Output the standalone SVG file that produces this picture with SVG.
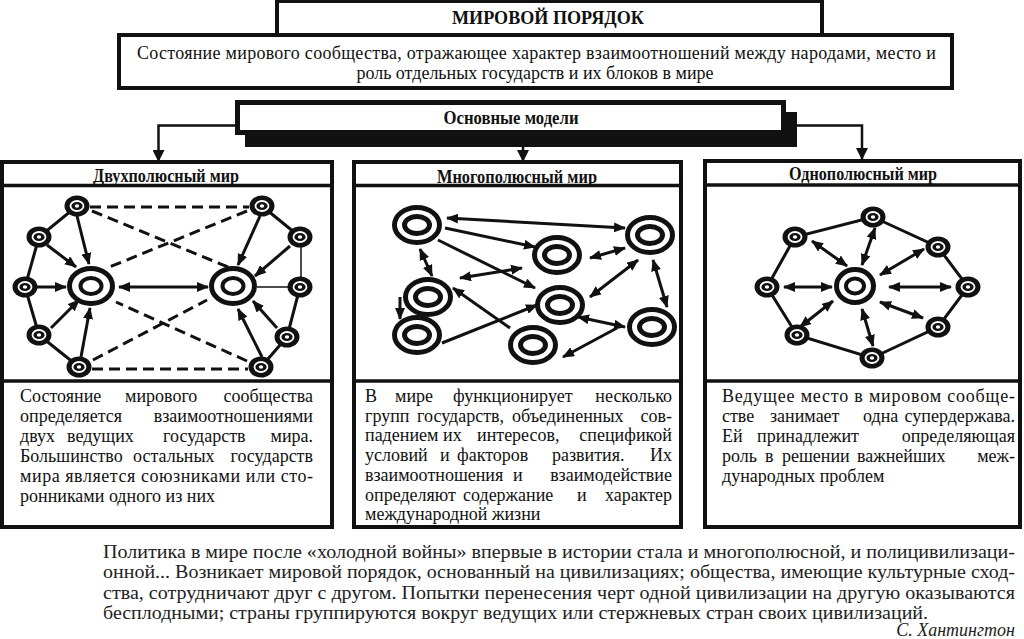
<svg xmlns="http://www.w3.org/2000/svg" xmlns:xlink="http://www.w3.org/1999/xlink" width="1024" height="639" viewBox="0 0 1024 639">
<style>
.box{fill:#fff;stroke:#111;stroke-width:4}
.sep{stroke:#111;stroke-width:3.5}
.ln{stroke:#111;stroke-width:3;fill:none}
.thin{stroke:#111;stroke-width:1.5;fill:none}
.ar{stroke:#111;stroke-width:3;fill:none;marker-end:url(#ah)}
.dar{stroke:#111;stroke-width:3;fill:none;marker-start:url(#ah);marker-end:url(#ah)}
.ds{stroke:#111;stroke-width:3;fill:none;stroke-dasharray:11 6}
.con{stroke:#111;stroke-width:2.5;fill:none;marker-end:url(#ah2)}
.t{font-family:"Liberation Serif","Times New Roman",serif;font-size:18px;fill:#111}
.h{font-family:"Liberation Serif","Times New Roman",serif;font-size:18.5px;font-weight:bold;fill:#111}
.q{font-family:"Liberation Serif","Times New Roman",serif;font-size:18px;fill:#222}
</style>
<defs>
<marker id="ah" viewBox="0 0 12 10" refX="11" refY="5" markerWidth="12" markerHeight="10" markerUnits="userSpaceOnUse" orient="auto-start-reverse"><path d="M0,0 L12,5 L0,10 z" fill="#111"/></marker>
<marker id="ah2" viewBox="0 0 12 12" refX="11" refY="6" markerWidth="12" markerHeight="12" markerUnits="userSpaceOnUse" orient="auto"><path d="M0,0 L12,6 L0,12 z" fill="#111"/></marker>
<g id="sm"><ellipse rx="12.5" ry="10.5" fill="#111"/><ellipse rx="6.5" ry="5" fill="none" stroke="#fff" stroke-width="1.8"/><ellipse rx="2.2" ry="1.8" fill="#fff"/></g>
<g id="big"><ellipse rx="21.5" ry="17.5" fill="#fff" stroke="#111" stroke-width="5"/><ellipse rx="10.5" ry="8" fill="#fff" stroke="#111" stroke-width="4"/></g>
<g id="mp"><ellipse rx="22.5" ry="17.5" fill="#fff" stroke="#111" stroke-width="5"/><ellipse rx="12.5" ry="8.5" fill="#fff" stroke="#111" stroke-width="5"/></g>
<g id="big3"><ellipse rx="18.5" ry="16.5" fill="#fff" stroke="#111" stroke-width="5"/><ellipse rx="9" ry="7.5" fill="#fff" stroke="#111" stroke-width="4"/></g>
</defs>
<rect width="1024" height="639" fill="#fff"/>

<g id="definition">
<rect x="119" y="35" width="833" height="53" class="box"/>
<text class="t" x="137" y="59" textLength="799" lengthAdjust="spacing">Состояние мирового сообщества, отражающее характер взаимоотношений между народами, место и</text>
<text class="t" x="535" y="79" text-anchor="middle">роль отдельных государств и их блоков в мире</text>
</g>
<g id="title">
<rect x="277" y="1" width="545" height="34" class="box"/>
<text x="548" y="24" text-anchor="middle" font-family="Liberation Serif, Times New Roman, serif" font-size="19" font-weight="bold" fill="#111" textLength="192" lengthAdjust="spacingAndGlyphs">МИРОВОЙ  ПОРЯДОК</text>
</g>

<g id="connectors-top">
<path class="con" d="M235,125.5 H158.5 V161"/>
<path class="con" d="M523,147 V161"/>
<path class="con" d="M797,125.5 H862 V159"/>
</g>

<g id="models">
<rect x="245" y="112" width="552" height="35" fill="#111"/>
<rect x="237.5" y="102.5" width="546" height="30" fill="#fff" stroke="#111" stroke-width="5"/>
<text class="h" x="511" y="124" text-anchor="middle" textLength="135" lengthAdjust="spacingAndGlyphs">Основные модели</text>
</g>

<g id="panel-bipolar">
<rect x="2" y="162" width="330" height="365" class="box"/>
<line x1="2" y1="185.5" x2="332" y2="185.5" class="sep"/>
<line x1="2" y1="381" x2="332" y2="381" class="sep" stroke-width="4"/>
<text class="h" x="166" y="182" text-anchor="middle" textLength="146" lengthAdjust="spacingAndGlyphs">Двухполюсный мир</text>
<text class="t" y="402"><tspan x="20">Состояние</tspan><tspan x="125">мирового</tspan><tspan x="313" text-anchor="end">сообщества</tspan></text>
<text class="t" y="422"><tspan x="20">определяется</tspan><tspan x="313" text-anchor="end">взаимоотношениями</tspan></text>
<text class="t" y="442"><tspan x="20">двух</tspan><tspan x="67">ведущих</tspan><tspan x="163">государств</tspan><tspan x="313" text-anchor="end">мира.</tspan></text>
<text class="t" y="462"><tspan x="20">Большинство</tspan><tspan x="133">остальных</tspan><tspan x="313" text-anchor="end">государств</tspan></text>
<text class="t" x="20" y="482" textLength="293" lengthAdjust="spacing">мира является союзниками или сто-</text>
<text class="t" x="20" y="502">ронниками одного из них</text>
</g>

<g id="panel-multipolar">
<rect x="354" y="162" width="327" height="365" class="box"/>
<line x1="354" y1="185.5" x2="681" y2="185.5" class="sep"/>
<line x1="354" y1="381" x2="681" y2="381" class="sep" stroke-width="4"/>
<text class="h" x="517" y="183" text-anchor="middle" textLength="160" lengthAdjust="spacingAndGlyphs">Многополюсный мир</text>
<text class="t" y="402"><tspan x="365">В</tspan><tspan x="395">мире</tspan><tspan x="453">функционирует</tspan><tspan x="672" text-anchor="end">несколько</tspan></text>
<text class="t" y="421.5"><tspan x="365">групп</tspan><tspan x="417">государств,</tspan><tspan x="512">объединенных</tspan><tspan x="672" text-anchor="end">сов-</tspan></text>
<text class="t" y="441"><tspan x="365">падением</tspan><tspan x="443">их</tspan><tspan x="477">интересов,</tspan><tspan x="672" text-anchor="end">спецификой</tspan></text>
<text class="t" y="461"><tspan x="365">условий</tspan><tspan x="440">и</tspan><tspan x="457">факторов</tspan><tspan x="552">развития.</tspan><tspan x="672" text-anchor="end">Их</tspan></text>
<text class="t" y="481"><tspan x="365">взаимоотношения</tspan><tspan x="513">и</tspan><tspan x="672" text-anchor="end">взаимодействие</tspan></text>
<text class="t" y="500.5"><tspan x="365">определяют</tspan><tspan x="463">содержание</tspan><tspan x="577">и</tspan><tspan x="672" text-anchor="end">характер</tspan></text>
<text class="t" x="365" y="520">международной жизни</text>
</g>

<g id="panel-unipolar">
<rect x="705" y="161" width="315" height="366" class="box"/>
<line x1="705" y1="185" x2="1020" y2="185" class="sep"/>
<line x1="705" y1="381" x2="1020" y2="381" class="sep" stroke-width="4"/>
<text class="h" x="863" y="179.5" text-anchor="middle" textLength="148" lengthAdjust="spacingAndGlyphs">Однополюсный мир</text>
<text class="t" x="722" y="402" textLength="293" lengthAdjust="spacing">Ведущее место в мировом сообще-</text>
<text class="t" y="422"><tspan x="722">стве</tspan><tspan x="770">занимает</tspan><tspan x="863">одна</tspan><tspan x="1015" text-anchor="end">супердержава.</tspan></text>
<text class="t" y="442"><tspan x="722">Ей</tspan><tspan x="757">принадлежит</tspan><tspan x="1015" text-anchor="end">определяющая</tspan></text>
<text class="t" y="462"><tspan x="722">роль</tspan><tspan x="765">в</tspan><tspan x="782">решении</tspan><tspan x="857">важнейших</tspan><tspan x="1015" text-anchor="end">меж-</tspan></text>
<text class="t" x="722" y="482">дународных проблем</text>
</g>

<g id="connectors">
<polyline class="ln" points="77,206 39,237 25,287 39,335 79,367"/>
<polyline class="ln" points="262,206 300,237"/>
<line class="thin" x1="301" y1="237" x2="301" y2="287"/>
<polyline class="ln" points="300,287 287,337 261,367"/>
<line class="ds" x1="90" y1="207" x2="249" y2="207"/>
<line class="ds" x1="92" y1="369" x2="248" y2="369"/>
<line class="ds" x1="92" y1="211" x2="228" y2="267"/>
<line class="ds" x1="247" y1="211" x2="107" y2="268"/>
<line class="ds" x1="93" y1="360" x2="207" y2="300"/>
<line class="ds" x1="247" y1="361" x2="116" y2="302"/>
<line class="ar" x1="77" y1="216" x2="89" y2="264"/>
<line class="ar" x1="47" y1="245" x2="76" y2="267"/>
<line class="ar" x1="37" y1="287" x2="66" y2="287"/>
<line class="ar" x1="51" y1="328" x2="79" y2="300"/>
<line class="ar" x1="81" y1="357" x2="90" y2="308"/>
<line class="ar" x1="260" y1="216" x2="238" y2="265"/>
<line class="ar" x1="290" y1="246" x2="255" y2="276"/>
<line class="thin" x1="257" y1="287" x2="290" y2="287"/>
<line class="ar" x1="277" y1="328" x2="253" y2="301"/>
<line class="ar" x1="262" y1="357" x2="238" y2="309"/>
<line class="dar" x1="119" y1="287" x2="208" y2="287"/>
<line class="dar" x1="447" y1="218" x2="625" y2="228"/>
<line class="ar" x1="445" y1="228" x2="535" y2="247"/>
<line class="ar" x1="438" y1="240" x2="535" y2="288"/>
<line class="dar" x1="420" y1="249" x2="432" y2="276"/>
<line class="dar" x1="590" y1="258" x2="625" y2="248"/>
<line class="dar" x1="460" y1="278" x2="522" y2="268"/>
<line class="ar" x1="400" y1="297" x2="400" y2="319"/>
<line class="ar" x1="442" y1="343" x2="537" y2="305"/>
<line class="ar" x1="510" y1="328" x2="453" y2="288"/>
<line class="dar" x1="638" y1="260" x2="590" y2="297"/>
<line class="dar" x1="653" y1="260" x2="667" y2="307"/>
<line class="dar" x1="578" y1="317" x2="625" y2="327"/>
<line class="ar" x1="617" y1="328" x2="563" y2="357"/>
<polygon class="ln" points="873,217 938,247 968,287 938,327 872,358 797,335 767,287 795,237"/>
<line class="dar" x1="862" y1="265" x2="875" y2="228"/>
<line class="dar" x1="847" y1="266" x2="812" y2="241"/>
<line class="dar" x1="880" y1="275" x2="924" y2="249"/>
<line class="dar" x1="832" y1="287" x2="784" y2="287"/>
<line class="dar" x1="889" y1="287" x2="951" y2="287"/>
<line class="dar" x1="833" y1="301" x2="800" y2="327"/>
<line class="dar" x1="880" y1="302" x2="923" y2="318"/>
<line class="dar" x1="862" y1="309" x2="873" y2="346"/>
</g>

<g id="nodes-bipolar">
<g id="bp-A"><use xlink:href="#sm" x="77" y="206"/></g>
<g id="bp-B"><use xlink:href="#sm" x="39" y="237"/></g>
<g id="bp-C"><use xlink:href="#sm" x="25" y="287"/></g>
<g id="bp-D"><use xlink:href="#sm" x="39" y="335"/></g>
<g id="bp-E"><use xlink:href="#sm" x="79" y="367"/></g>
<g id="bp-F"><use xlink:href="#sm" x="262" y="206"/></g>
<g id="bp-G"><use xlink:href="#sm" x="300" y="237"/></g>
<g id="bp-H"><use xlink:href="#sm" x="300" y="287"/></g>
<g id="bp-I"><use xlink:href="#sm" x="287" y="337"/></g>
<g id="bp-J"><use xlink:href="#sm" x="261" y="367"/></g>
<g id="bp-left"><use xlink:href="#big" x="91" y="286"/></g>
<g id="bp-right"><use xlink:href="#big" x="233" y="286"/></g>
</g>

<g id="nodes-multipolar">
<g id="mp-1"><use xlink:href="#mp" x="417" y="225"/></g>
<g id="mp-2"><use xlink:href="#mp" x="557" y="255"/></g>
<g id="mp-3"><use xlink:href="#mp" x="650" y="235"/></g>
<g id="mp-4"><use xlink:href="#mp" x="428" y="297"/></g>
<g id="mp-5"><use xlink:href="#mp" x="560" y="305"/></g>
<g id="mp-6"><use xlink:href="#mp" x="417" y="335"/></g>
<g id="mp-7"><use xlink:href="#mp" x="533" y="345"/></g>
<g id="mp-8"><use xlink:href="#mp" x="652" y="327"/></g>
</g>

<g id="nodes-unipolar">
<g id="up-1"><use xlink:href="#sm" x="873" y="217"/></g>
<g id="up-2"><use xlink:href="#sm" x="795" y="237"/></g>
<g id="up-3"><use xlink:href="#sm" x="938" y="247"/></g>
<g id="up-4"><use xlink:href="#sm" x="767" y="287"/></g>
<g id="up-5"><use xlink:href="#sm" x="968" y="287"/></g>
<g id="up-6"><use xlink:href="#sm" x="797" y="335"/></g>
<g id="up-7"><use xlink:href="#sm" x="938" y="327"/></g>
<g id="up-8"><use xlink:href="#sm" x="872" y="358"/></g>
<g id="up-center"><use xlink:href="#big3" x="855" y="286"/></g>
</g>

<g id="quote">
<text class="q" x="103" y="558" textLength="912" lengthAdjust="spacingAndGlyphs">Политика в мире после «холодной войны» впервые в истории стала и многополюсной, и полицивилизаци-</text>
<text class="q" x="103" y="578" textLength="912" lengthAdjust="spacingAndGlyphs">онной... Возникает мировой порядок, основанный на цивилизациях; общества, имеющие культурные сход-</text>
<text class="q" x="103" y="598.5" textLength="912" lengthAdjust="spacingAndGlyphs">ства, сотрудничают друг с другом. Попытки перенесения черт одной цивилизации на другую оказываются</text>
<text class="q" x="103" y="618.5" textLength="825" lengthAdjust="spacingAndGlyphs">бесплодными; страны группируются вокруг ведущих или стержневых стран своих цивилизаций.</text>
<text class="q" x="1015" y="636" text-anchor="end" font-style="italic">С. Хантингтон</text>
</g>
</svg>
